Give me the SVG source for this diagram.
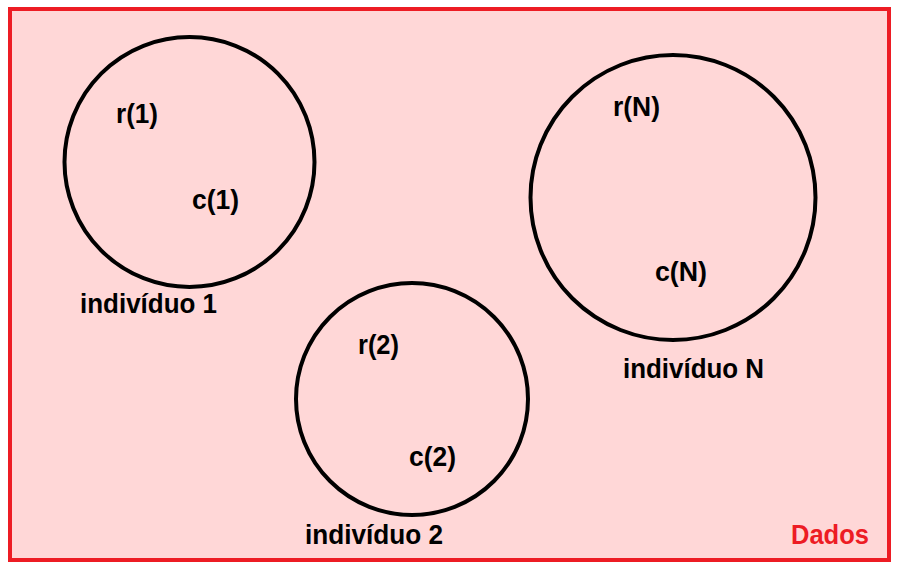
<svg xmlns="http://www.w3.org/2000/svg" width="898" height="569" viewBox="0 0 898 569">
<style>
.c{fill:none;stroke:#000;stroke-width:4}
.t{font-family:"Liberation Sans",Arial,sans-serif;font-weight:bold;font-size:28px;fill:#000}
.r{fill:#ED1C24}
</style>
<rect x="0" y="0" width="898" height="569" fill="#fff"/>
<g id="dados">
<rect x="10" y="9" width="879" height="551" fill="#FFD7D7" stroke="#ED1C24" stroke-width="4"/>
<text class="t r" x="791" y="544" textLength="78" lengthAdjust="spacingAndGlyphs">Dados</text>
</g>
<g id="individuo1">
<circle class="c" cx="189.5" cy="162" r="125"/>
<text class="t" x="116" y="123" textLength="42" lengthAdjust="spacingAndGlyphs">r(1)</text>
<text class="t" x="192" y="209" textLength="47" lengthAdjust="spacingAndGlyphs">c(1)</text>
<text class="t" x="80" y="313" textLength="137" lengthAdjust="spacingAndGlyphs">indivíduo 1</text>
</g>
<g id="individuo2">
<circle class="c" cx="412" cy="399" r="116"/>
<text class="t" x="358" y="354" textLength="41" lengthAdjust="spacingAndGlyphs">r(2)</text>
<text class="t" x="409" y="466" textLength="47" lengthAdjust="spacingAndGlyphs">c(2)</text>
<text class="t" x="305" y="544" textLength="138" lengthAdjust="spacingAndGlyphs">indivíduo 2</text>
</g>
<g id="individuoN">
<circle class="c" cx="673" cy="197.5" r="142.5"/>
<text class="t" x="613" y="116" textLength="47" lengthAdjust="spacingAndGlyphs">r(N)</text>
<text class="t" x="655" y="281" textLength="52" lengthAdjust="spacingAndGlyphs">c(N)</text>
<text class="t" x="623" y="378" textLength="141" lengthAdjust="spacingAndGlyphs">indivíduo N</text>
</g>
<g id="connectors"/>
</svg>
